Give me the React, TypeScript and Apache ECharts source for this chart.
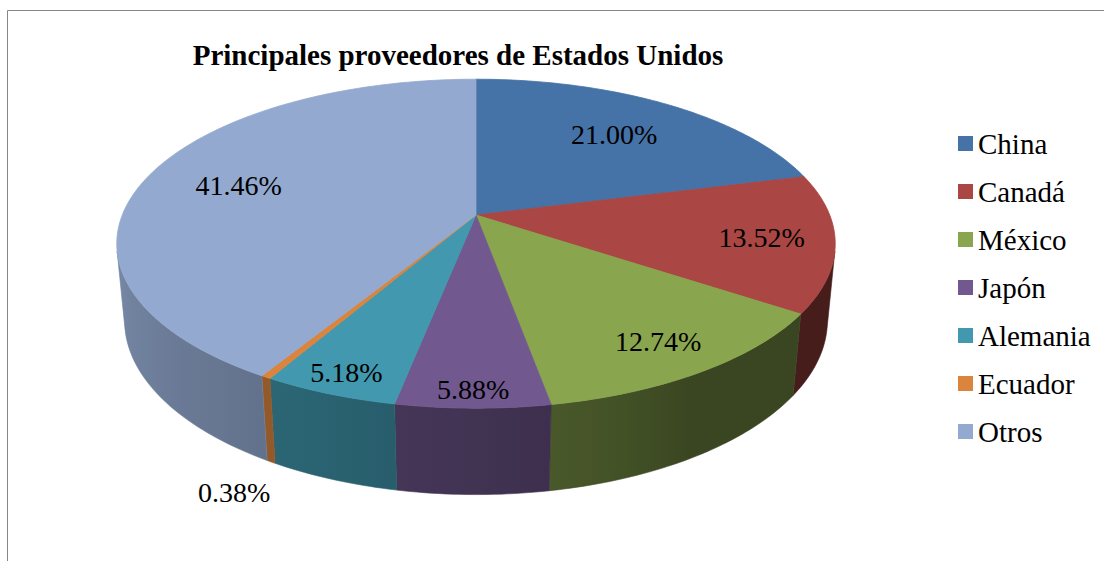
import React, { useEffect, useRef } from "react";
import * as echarts from "echarts";

// ---- data ----
const categories = ["China", "Canadá", "México", "Japón", "Alemania", "Ecuador", "Otros"];
const values = [21.0, 13.52, 12.74, 5.88, 5.18, 0.38, 41.46];
const colors = ["#4572A7", "#AA4643", "#89A54E", "#71588F", "#4198AF", "#DB843D", "#93A9CF"];
const titleText = "Principales proveedores de Estados Unidos";

// ---- layout (not data) ----
const labelRadius = [0.7, 0.8, 0.83, 0.92, 0.9, 1.15, 0.72];
const CX = 476;
const CY = 215;
const F = 1810;
const D = 5.117;
const ALPHA = (26.8 * Math.PI) / 180;
const H = 0.245;
const ca = Math.cos(ALPHA);
const sa = Math.sin(ALPHA);
const FONT = "Liberation Serif";

const total = values.reduce((a, b) => a + b, 0);
const starts: number[] = [];
{
  let acc = 0;
  for (const v of values) {
    starts.push((acc / total) * 360);
    acc += v;
  }
}
const VIS0 = (Math.acos(-1 / (D * ca)) * 180) / Math.PI;
const VIS1 = 360 - VIS0;

function project(r: number, phi: number, y: number): number[] {
  const rad = (phi * Math.PI) / 180;
  const X = r * Math.sin(rad);
  const Z = -r * Math.cos(rad);
  const depth = D - (Z * ca + y * sa);
  const v = y * ca - Z * sa;
  return [CX + (F * X) / depth, CY - (F * v) / depth];
}

function shade(hex: string, f: number): string {
  const n = parseInt(hex.slice(1), 16);
  const r = Math.round(((n >> 16) & 255) * f);
  const g = Math.round(((n >> 8) & 255) * f);
  const b = Math.round((n & 255) * f);
  return `rgb(${r},${g},${b})`;
}

function wallFactor(phi: number): number {
  const t = Math.min(1, Math.max(0, (phi - 150) / 120));
  return 0.42 + 0.41 * Math.pow(t, 0.7);
}

export default function App() {
  const ref = useRef<HTMLDivElement>(null);
  useEffect(() => {
    if (!ref.current) return;
    const chart = echarts.init(ref.current, undefined, { renderer: "svg" });
    const option: any = {
      animation: false,
      backgroundColor: "#ffffff",
      title: {
        text: titleText,
        left: 453,
        textAlign: "center",
        top: 35,
        textStyle: { fontFamily: FONT, fontWeight: "bold", fontSize: 29, color: "#000" },
      },
      legend: {
        orient: "vertical",
        left: 953,
        top: 124,
        itemWidth: 15,
        itemHeight: 15,
        itemGap: 19,
        itemTextGap: 7,
        icon: "rect",
        selectedMode: false,
        data: categories,
        textStyle: { fontFamily: FONT, fontSize: 29, lineHeight: 29, color: "#000" },
      },
      graphic: [
        {
          type: "rect",
          shape: { x: 7.5, y: 10.5, width: 1300, height: 700 },
          style: { fill: "none", stroke: "#868686", lineWidth: 1 },
          silent: true,
        },
      ],
      series: [
        {
          type: "pie",
          radius: [0, 0],
          center: [-50, -50],
          silent: true,
          label: { show: false },
          labelLine: { show: false },
          data: categories.map((n, i) => ({ name: n, value: values[i], itemStyle: { color: colors[i] } })),
        },
        {
          type: "custom",
          coordinateSystem: "none",
          silent: true,
          data: categories.map((n, i) => ({ name: n, value: [values[i]] })),
          renderItem: (params: any, api: any) => {
            const i = params.dataIndex;
            const v = api.value(0) as number;
            const a0 = starts[i];
            const a1 = a0 + (v / total) * 360;
            const children: any[] = [];
            const w0 = Math.max(a0, VIS0);
            const w1 = Math.min(a1, VIS1);
            if (w1 > w0) {
              const n = Math.max(2, Math.ceil((w1 - w0) / 1));
              const topPts: number[][] = [];
              const botPts: number[][] = [];
              for (let k = 0; k <= n; k++) {
                const p = w0 + ((w1 - w0) * k) / n;
                topPts.push(project(1, p, 0));
                botPts.push(project(1, p, -H));
              }
              const xa = Math.min(topPts[0][0], botPts[0][0], topPts[n][0], botPts[n][0]);
              const xb = Math.max(topPts[0][0], botPts[0][0], topPts[n][0], botPts[n][0]);
              const stops: any[] = [];
              const ns = 8;
              for (let k = 0; k <= ns; k++) {
                const p = w0 + ((w1 - w0) * k) / ns;
                const px = project(1, p, -H / 2)[0];
                const off = xb > xa ? (px - xa) / (xb - xa) : 0;
                stops.push({ offset: Math.min(1, Math.max(0, off)), color: shade(colors[i], wallFactor(p)) });
              }
              stops.sort((a, b) => a.offset - b.offset);
              const grad = new echarts.graphic.LinearGradient(0, 0, 1, 0, stops);
              const solid = shade(colors[i], wallFactor((w0 + w1) / 2));
              children.push({
                type: "polygon",
                shape: { points: topPts.concat(botPts.slice().reverse()) },
                style: { fill: grad, stroke: solid, lineWidth: 0.6 },
              });
            }
            const pts: number[][] = [project(0, 0, 0)];
            const m = Math.max(2, Math.ceil(a1 - a0));
            for (let k = 0; k <= m; k++) pts.push(project(1, a0 + ((a1 - a0) * k) / m, 0));
            children.push({
              type: "polygon",
              shape: { points: pts },
              style: { fill: colors[i], stroke: colors[i], lineWidth: 0.8 },
            });
            const mid = (a0 + a1) / 2;
            const outside = v < 1;
            const lp = project(labelRadius[i], mid, outside ? -H : 0);
            children.push({
              type: "text",
              x: lp[0],
              y: lp[1],
              z2: 50,
              style: {
                text: v.toFixed(2) + "%",
                fill: "#000",
                fontFamily: FONT,
                fontSize: 28,
                align: "center",
                verticalAlign: "middle",
              },
            });
            return { type: "group", children };
          },
        },
      ],
    };
    chart.setOption(option);
    return () => chart.dispose();
  }, []);
  return (
    <div
      ref={ref}
      style={{ position: "absolute", left: 0, top: 0, width: 1104, height: 561 }}
    />
  );
}
